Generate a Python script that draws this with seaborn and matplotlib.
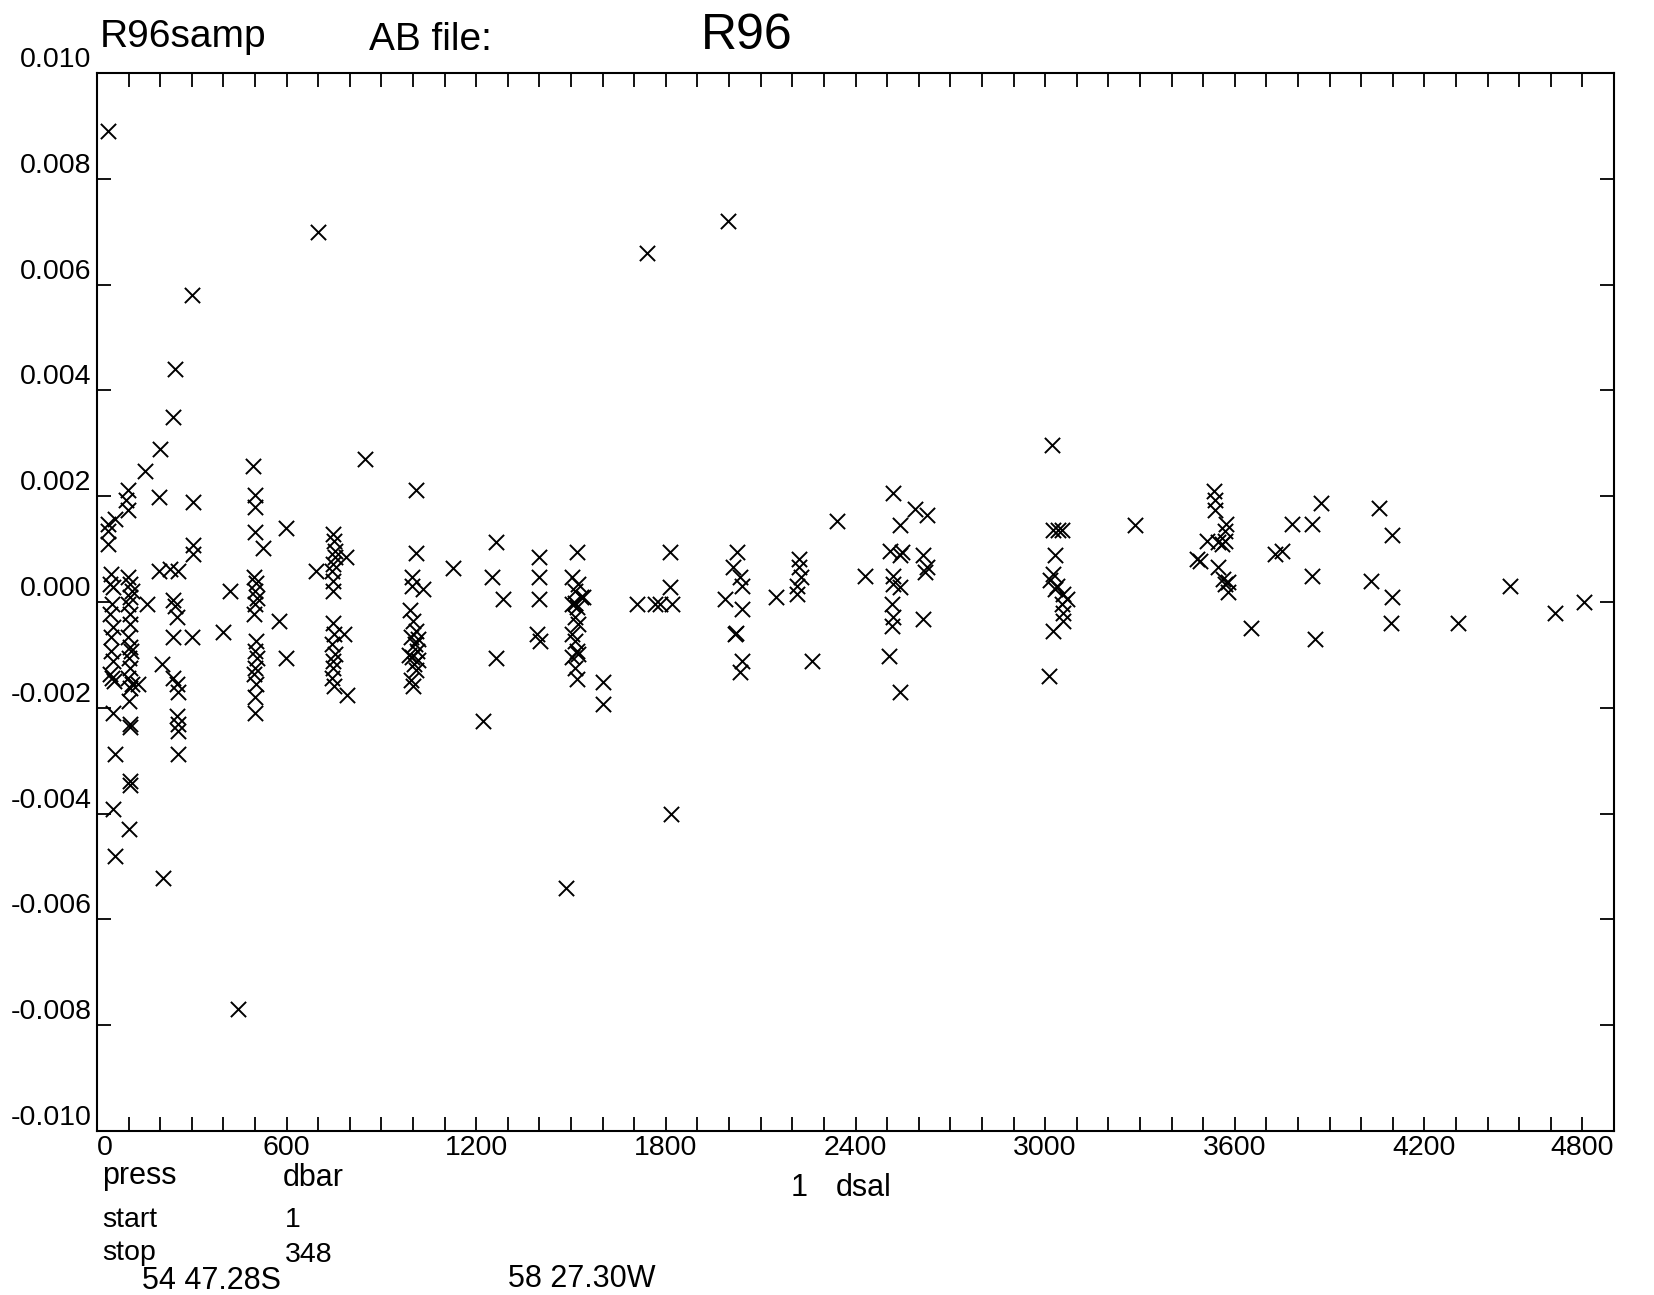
import matplotlib
matplotlib.use("Agg")
import matplotlib.pyplot as plt
import seaborn as sns
import pandas as pd
from matplotlib.ticker import MultipleLocator

# ---------------- data (pressure in dbar, dsal) ----------------
press_shallow = [36, 300, 247, 241, 199, 152, 99, 93, 99, 197, 303, 35, 35, 35, 56, 305, 305, 197, 231, 257,
                 157, 241, 246, 252, 241, 300, 205, 241, 252, 257, 252, 257, 257, 255, 51, 104, 104, 56, 104, 104,
                 51, 102, 56, 208, 130]
dsal_shallow = [0.0089, 0.0058, 0.0044, 0.0035, 0.0029, 0.00248, 0.00211, 0.00192, 0.00173, 0.00198,
                0.00189, 0.00148, 0.00135, 0.0011, 0.00157, 0.00107, 0.00091, 0.00059, 0.00063, 0.00059,
                -0.00004, 0.00003, -0.00007, -0.00029, -0.00067, -0.00067, -0.00118, -0.00143, -0.00155, -0.00171,
                -0.00216, -0.00231, -0.00244, -0.00288, -0.00209, -0.00231, -0.00237, -0.00288, -0.00339, -0.00345,
                -0.00392, -0.0043, -0.00481, -0.00521, -0.00155]

press_surf_a = [45, 41, 50, 47, 41, 52, 45, 43, 50, 41, 47, 55]
dsal_surf_a = [0.00053, 0.00034, 0.00028, -0.00004, -0.00023, -0.00048, -0.00067, -0.00092, -0.00111,
               -0.00136, -0.00143, -0.00149]
press_surf_b = [99, 104, 110, 104, 99, 104, 104, 99, 104, 106, 101, 104, 99, 110, 104, 102]
dsal_surf_b = [0.00047, 0.00034, 0.00021, 0.00009, -0.00004, -0.00023, -0.00042, -0.00067, -0.00086,
               -0.00092, -0.00105, -0.00124, -0.00143, -0.00155, -0.00162, -0.00187]

press_mid = [447, 421, 400, 495, 501, 501, 501, 524, 599, 575, 599, 694, 789, 792, 783, 848, 698]
dsal_mid = [-0.0077, 0.00021, -0.00057, 0.00258, 0.00202, 0.0018, 0.00132, 0.00102, 0.0014, -0.00035,
            -0.00106, 0.00059, 0.00085, -0.00176, -0.00061, 0.00271, 0.0070]

press_500 = [498, 503, 499, 505, 501, 497, 503, 499, 505, 501, 497, 503, 501, 501]
dsal_500 = [0.00047, 0.00035, 0.00021, 0.00008, -0.00004, -0.00023, -0.00073, -0.00092, -0.00105,
            -0.00124, -0.00136, -0.00155, -0.0018, -0.00209]

press_750 = [746, 750, 752, 754, 746, 744, 746, 746, 746, 750, 744, 752, 748, 746, 744, 750]
dsal_750 = [0.00129, 0.00116, 0.00097, 0.00085, 0.00072, 0.00059, 0.0004, 0.00021, -0.00039, -0.00061,
            -0.0008, -0.00099, -0.00111, -0.00124, -0.00143, -0.00159]

press_1000 = [1009, 1009, 996, 996, 1032, 990, 1000, 1010, 995, 1005, 1012, 996, 1003, 1008, 995, 1000,
              1015, 988, 1015]
dsal_1000 = [0.00211, 0.00093, 0.00047, 0.00031, 0.00025, -0.00016, -0.00035, -0.00054, -0.00066, -0.00079,
             -0.00092, -0.00104, -0.00117, -0.00129, -0.00148, -0.00158, -0.0007, -0.001, -0.0011]

press_1200 = [1127, 1262, 1249, 1286, 1262, 1222, 1399, 1399, 1399, 1391, 1402, 1518, 1602, 1602, 1485]
dsal_1200 = [0.00064, 0.00114, 0.00047, 0.00006, -0.00105, -0.00225, 0.00086, 0.00047, 0.00006, -0.00061,
             -0.00073, 0.00094, -0.00152, -0.00193, -0.0054]

press_1500 = [1502, 1523, 1512, 1530, 1502, 1518, 1512, 1523, 1502, 1512, 1518, 1502, 1512, 1518, 1537,
              1512, 1523]
dsal_1500 = [0.00047, 0.00034, 0.00021, 0.00009, -0.00004, -0.0001, -0.00029, -0.00042, -0.00061, -0.00073,
             -0.00092, -0.00104, -0.00124, -0.00146, 0.0001, -0.00002, -0.00098]

press_2000 = [1739, 1813, 1813, 1708, 1766, 1781, 1818, 1816, 1996, 2340, 2024, 2013, 2034, 2040, 1987,
              2040, 2019, 2022, 2040, 2034, 2148, 2222, 2222, 2228, 2216, 2216, 2263, 2430]
dsal_2000 = [0.0066, 0.00095, 0.00029, -0.00004, -0.00004, -0.00004, -0.00004, -0.0040, 0.0072, 0.00154,
             0.00095, 0.00066, 0.00047, 0.00031, 0.00006, -0.00013, -0.00061, -0.00058, -0.00111, -0.00133,
             0.00009, 0.00082, 0.00066, 0.00047, 0.00031, 0.00015, -0.00111, 0.00049]

press_2500 = [2518, 2540, 2588, 2625, 2509, 2546, 2541, 2612, 2625, 2620, 2520, 2520, 2541, 2514, 2520,
              2514, 2614, 2507, 2541]
dsal_2500 = [0.00206, 0.00146, 0.00176, 0.00165, 0.00097, 0.00095, 0.00088, 0.00088, 0.00066, 0.00056,
             0.0005, 0.00034, 0.00028, -0.00004, -0.00029, -0.00045, -0.00032, -0.00102, -0.00171]

press_3000 = [3021, 3026, 3042, 3052, 3284, 3031, 3026, 3015, 3037, 3031, 3057, 3068, 3052, 3057, 3057,
              3026, 3013]
dsal_3000 = [0.00296, 0.00136, 0.00136, 0.00136, 0.00145, 0.00088, 0.00053, 0.00041, 0.00031, 0.00025,
             0.00015, 0.00006, -0.00004, -0.0002, -0.00035, -0.00054, -0.0014]

press_deep = [3535, 3536, 3536, 3572, 3569, 3511, 3548, 3559, 3569, 3479, 3490, 3548, 3564, 3579, 3569,
              3579, 3650, 3780, 3846, 3727, 3748, 3872, 3846, 3854, 4057, 4098, 4030, 4098, 4094, 4307,
              4471, 4613, 4706]
dsal_deep = [0.0021, 0.00192, 0.00173, 0.00148, 0.00135, 0.00116, 0.00113, 0.0011, 0.00116, 0.00082,
             0.00078, 0.00066, 0.00044, 0.00038, 0.00034, 0.00018, -0.0005, 0.00147, 0.00147, 0.0009,
             0.00097, 0.00188, 0.0005, -0.0007, 0.00178, 0.00127, 0.0004, 0.0001, -0.0004, -0.0004,
             0.0003, -0.0002, 0.0]

x_ticks = [0, 600, 1200, 1800, 2400, 3000, 3600, 4200, 4800]
x_tick_labels = ["0", "600", "1200", "1800", "2400", "3000", "3600", "4200", "4800"]
y_ticks = [-0.010, -0.008, -0.006, -0.004, -0.002, 0.000, 0.002, 0.004, 0.006, 0.008, 0.010]
y_tick_labels = ["-0.010", "-0.008", "-0.006", "-0.004", "-0.002", "0.000", "0.002", "0.004",
                 "0.006", "0.008", "0.010"]

press = (press_shallow + press_surf_a + press_surf_b + press_mid + press_500 + press_750 + press_1000
         + press_1200 + press_1500 + press_2000 + press_2500 + press_3000 + press_deep)
dsal = (dsal_shallow + dsal_surf_a + dsal_surf_b + dsal_mid + dsal_500 + dsal_750 + dsal_1000
        + dsal_1200 + dsal_1500 + dsal_2000 + dsal_2500 + dsal_3000 + dsal_deep)
df = pd.DataFrame({"press": press, "dsal": dsal})

# ---------------- figure ----------------
sns.set_style("white")
plt.rcParams["font.family"] = ["Liberation Sans", "DejaVu Sans"]

W, H = 1654, 1295
fig = plt.figure(figsize=(W / 100, H / 100), dpi=100)
L, R, T, B = 97, 1614, 73, 1131
ax = fig.add_axes([L / W, 1 - B / H, (R - L) / W, (B - T) / H])

sns.scatterplot(data=df, x="press", y="dsal", marker="x", color="black", s=120,
                linewidth=1.4, ax=ax, legend=False)

ax.set_xlim(0, 4800)
ax.set_ylim(-0.010, 0.010)
ax.set_xticks(x_ticks)
ax.set_xticklabels(x_tick_labels)
ax.xaxis.set_minor_locator(MultipleLocator(100))
ax.set_yticks(y_ticks)
ax.set_yticklabels(y_tick_labels)
ax.set_xlabel("")
ax.set_ylabel("")

ax.tick_params(axis="both", which="both", direction="in", length=10, width=1.3, color="black",
               labelsize=20.5, labelcolor="black", top=True, right=True, bottom=True, left=True)
ax.tick_params(axis="x", which="both", pad=3)
ax.tick_params(axis="y", which="both", pad=4)
for lbl in ax.get_yticklabels():
    lbl.set_va("bottom")
xl = ax.get_xticklabels()
xl[0].set_ha("left")
xl[-1].set_ha("right")

for s in ax.spines.values():
    s.set_visible(True)
    s.set_linewidth(1.5)
    s.set_color("black")


def ftext(x, y, s, size=22, **kw):
    fig.text(x / W, 1 - y / H, s, fontsize=size, va="baseline", ha="left", color="black", **kw)


ftext(100, 47, "R96samp", size=28)
ftext(369, 50, "AB file:", size=28)
ftext(701, 49, "R96", size=36)

ftext(102, 1184, "press")
ftext(283, 1186, "dbar")
ftext(791, 1196, "1")
ftext(836, 1196, "dsal")
ftext(102, 1227, "start", size=20.5)
ftext(285, 1227, "1", size=20.5)
ftext(102, 1260, "stop", size=20.5)
ftext(285, 1262, "348", size=20.5)
ftext(142, 1289, "54 47.28S")
ftext(508, 1287, "58 27.30W")

fig.savefig("out.png", dpi=100, facecolor="white")
